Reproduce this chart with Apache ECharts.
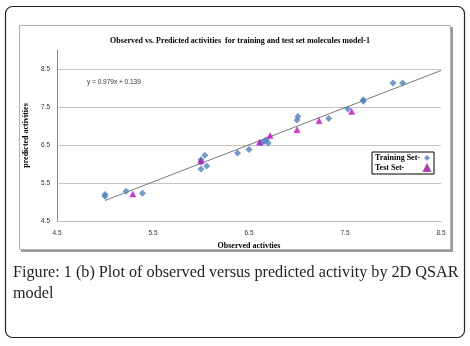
<!DOCTYPE html>
<html>
<head>
<meta charset="utf-8">
<script src="https://cdn.jsdelivr.net/npm/echarts@6/dist/echarts.min.js"></script>
<style>
  html, body { margin: 0; padding: 0; background: #fff; }
  #chart { width: 470px; height: 346px; }
</style>
</head>
<body>
<div id="chart"></div>
<script>
// 数据
var trainingSet = [
  [5.0, 5.15], [5.0, 5.2], [5.22, 5.28], [5.39, 5.23],
  [6.0, 6.11], [6.0, 6.06], [6.04, 6.23], [6.0, 5.87], [6.06, 5.95],
  [6.38, 6.29], [6.5, 6.38], [6.63, 6.55], [6.66, 6.6], [6.68, 6.64], [6.7, 6.55],
  [7.0, 7.16], [7.01, 7.25], [7.33, 7.2], [7.53, 7.45],
  [7.69, 7.65], [7.69, 7.69], [8.0, 8.13], [8.1, 8.13]
];
var testSet = [
  [5.29, 5.21], [6.0, 6.08], [6.61, 6.57], [6.72, 6.75],
  [7.0, 6.9], [7.23, 7.14], [7.57, 7.38]
];
var trendLine = [[5.0, 5.04], [8.5, 8.46]];
var legendNames = ['Training Set-', 'Test Set-'];
var equationText = 'y = 0.979x + 0.139';
var titleText = 'Observed vs. Predicted activities  for training and test set molecules model-1';
var captionLines = ['Figure: 1 (b) Plot of observed versus predicted activity by 2D QSAR', 'model'];

var serif = '"Liberation Serif", "DejaVu Serif", serif';
var sans = '"Liberation Sans", Arial, sans-serif';

var myChart = echarts.init(document.getElementById('chart'));
var option = {
  backgroundColor: '#fff',
  animation: false,
  title: {
    text: titleText,
    left: 235,
    top: 32,
    textAlign: 'center',
    textStyle: { fontFamily: serif, fontSize: 8, fontWeight: 'bold', color: '#000' }
  },
  legend: {
    orient: 'vertical',
    left: 372,
    top: 152,
    align: 'right',
    padding: [2, 3, 2, 3],
    itemGap: 2,
    itemWidth: 6,
    itemHeight: 6,
    borderColor: '#000',
    borderWidth: 1,
    backgroundColor: '#fff',
    data: legendNames,
    formatter: '{a|{name}}',
    textStyle: {
      fontFamily: serif, fontSize: 8, fontWeight: 'bold', color: '#000',
      rich: { a: { width: 44, align: 'left', fontFamily: serif, fontSize: 8, fontWeight: 'bold', color: '#000' } }
    }
  },
  grid: { left: 57, right: 29, top: 50, bottom: 125 },
  xAxis: {
    type: 'value',
    min: 4.5,
    max: 8.5,
    interval: 1,
    name: 'Observed activties',
    nameLocation: 'middle',
    nameGap: 21,
    nameTextStyle: { fontFamily: serif, fontSize: 8, fontWeight: 'bold', color: '#000' },
    axisLine: { show: true, lineStyle: { color: '#bdbdbd', width: 1 } },
    axisTick: { show: false },
    axisLabel: { fontFamily: sans, fontSize: 6.5, color: '#333', margin: 9 },
    splitLine: { show: false }
  },
  yAxis: {
    type: 'value',
    min: 4.5,
    max: 9,
    interval: 1,
    name: 'predicted activities',
    nameLocation: 'middle',
    nameGap: 18,
    nameTextStyle: { fontFamily: serif, fontSize: 8, fontWeight: 'bold', color: '#000' },
    axisLine: { show: true, lineStyle: { color: '#8a8a8a', width: 1 } },
    axisTick: { show: false },
    axisLabel: { fontFamily: sans, fontSize: 6.5, color: '#333', margin: 7, showMaxLabel: false },
    splitLine: { show: true, showMaxLine: false, lineStyle: { color: '#c4c4c4', width: 1 } }
  },
  graphic: [
    {
      type: 'rect',
      shape: { x: 5.5, y: 6.5, width: 459, height: 331, r: 7 },
      style: { fill: null, stroke: '#222', lineWidth: 1.2 },
      z: -2
    },
    {
      type: 'rect',
      shape: { x: 21, y: 27, width: 432, height: 225 },
      style: { fill: '#9a9a9a' },
      z: -2
    },
    {
      type: 'rect',
      shape: { x: 19.5, y: 25.5, width: 431, height: 224 },
      style: { fill: '#fff', stroke: '#b0b0b0', lineWidth: 1 },
      z: -1
    },
    {
      type: 'text',
      left: 87,
      top: 79,
      style: { text: equationText, font: '6.5px ' + sans, fill: '#333' }
    },
    {
      type: 'text',
      left: 13,
      top: 262,
      style: { text: captionLines.join('\n'), font: '16.2px ' + serif, fill: '#231f20', lineHeight: 21 }
    }
  ],
  series: [
    {
      name: 'trend',
      type: 'line',
      data: trendLine,
      symbol: 'none',
      silent: true,
      lineStyle: { color: '#555', width: 0.8 },
      z: 1
    },
    {
      name: legendNames[0],
      type: 'scatter',
      data: trainingSet,
      symbol: 'diamond',
      symbolSize: 7,
      itemStyle: { color: '#4f81bd' },
      z: 3
    },
    {
      name: legendNames[1],
      type: 'scatter',
      data: testSet,
      symbol: 'triangle',
      symbolSize: 6,
      itemStyle: { color: '#d400d4', borderColor: '#9a2ea0', borderWidth: 0.5 },
      z: 4
    }
  ]
};
myChart.setOption(option);
</script>
</body>
</html>
